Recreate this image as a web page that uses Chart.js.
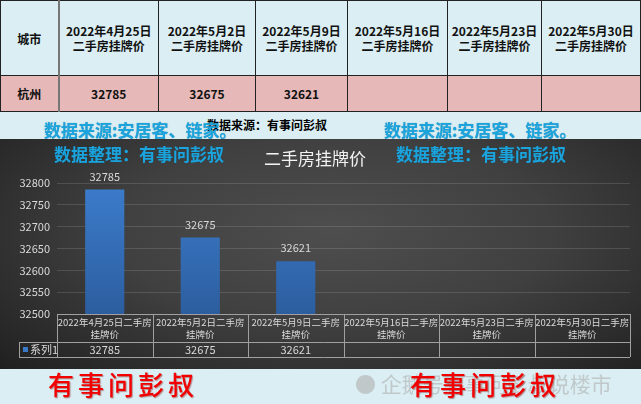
<!DOCTYPE html>
<html><head><meta charset="utf-8">
<script src="https://cdn.jsdelivr.net/npm/chart.js@4/dist/chart.umd.min.js"></script>
<style>
html,body{margin:0;padding:0;}
body{width:641px;height:404px;position:relative;overflow:hidden;background:#daeef3;font-family:"Noto Sans CJK SC",sans-serif;}
#tbl{position:absolute;left:0;top:0;border-collapse:collapse;table-layout:fixed;}
#tbl td{border:1px solid #222;text-align:center;font-weight:bold;font-size:12px;color:#111;padding:0;line-height:15px;}
#tbl tr.h td{background:#daeef3;height:74px;}
#tbl tr.d td{background:#e6b8b7;height:35px;}
#tbl td.c0{border-right:2px solid #777;}
#chartbox{position:absolute;left:0;top:139px;width:641px;height:230px;
 background:radial-gradient(ellipse 75% 90% at 52% 40%,#4e4e4e 0%,#404040 45%,#2a2a2a 80%,#1d1d1d 100%);}
.wm{position:absolute;white-space:nowrap;}
.cy{color:#1ba3dc;font-size:17px;font-weight:bold;font-family:"Noto Sans CJK SC";line-height:20px;text-shadow:0 0 1px rgba(0,80,120,.5);}
.bk{color:#000;font-size:12px;font-weight:bold;line-height:14px;}
.rd{color:#f20000;font-size:26px;font-weight:500;letter-spacing:4px;line-height:30px;text-shadow:1px 1px 1px rgba(120,0,0,.4);}
.gy{color:rgba(175,175,175,.6);font-size:21px;line-height:26px;}
</style></head>
<body>
<table id="tbl"></table>
<div id="chartbox"><canvas id="c" width="641" height="230"></canvas></div>
<div class="wm bk" style="left:207px;top:118px;">数据来源：有事问彭叔</div>
<div class="wm cy" style="left:44px;top:120px;">数据来源:安居客、链家。</div>
<div class="wm cy" style="left:384px;top:120px;">数据来源:安居客、链家。</div>
<div class="wm cy" style="left:54px;top:144px;">数据整理：有事问彭叔</div>
<div class="wm cy" style="left:396px;top:144px;">数据整理：有事问彭叔</div>
<div class="wm gy" style="left:355px;top:370px;">&#x25CF; 企鹅号有事问彭叔说楼市</div>
<div class="wm rd" style="left:48px;top:369px;">有事问彭叔</div>
<div class="wm rd" style="left:410px;top:369px;">有事问彭叔</div>
<script>
const cityHeader = '城市';
const cities = ['杭州'];
const dates = ['2022年4月25日','2022年5月2日','2022年5月9日','2022年5月16日','2022年5月23日','2022年5月30日'];
const metric = '二手房挂牌价';
const values = [32785, 32675, 32621, null, null, null];
const seriesName = '系列1';
const yTicks = [32500, 32550, 32600, 32650, 32700, 32750, 32800];
const chartTitle = '二手房挂牌价';

// top spreadsheet table
const colW = [58, 100, 97, 92, 100, 94, 99];
const tbl = document.getElementById('tbl');
let cg = '<colgroup>' + colW.map(w => '<col style="width:' + w + 'px">').join('') + '</colgroup>';
let h = '<tr class="h"><td class="c0">' + cityHeader + '</td>' + dates.map(d => '<td>' + d + '<br>' + metric + '</td>').join('') + '</tr>';
let r = cities.map(c => '<tr class="d"><td class="c0">' + c + '</td>' + values.map(v => '<td>' + (v == null ? '' : v) + '</td>').join('') + '</tr>').join('');
tbl.innerHTML = cg + h + r;

const labelCol = '#d9d9d9';
const lineCol = '#a0a0a0';
const tablePlugin = {
  id: 'excelTable',
  afterDraw(chart) {
    const ctx = chart.ctx, x = chart.scales.x, a = chart.chartArea;
    const half = (x.getPixelForValue(1) - x.getPixelForValue(0)) / 2;
    const top = a.bottom, mid = a.bottom + 28, bot = a.bottom + 43;
    ctx.save();
    ctx.strokeStyle = lineCol; ctx.lineWidth = 1;
    ctx.beginPath();
    ctx.moveTo(a.left, top + 0.5); ctx.lineTo(a.right, top + 0.5);
    ctx.moveTo(19, mid + 0.5); ctx.lineTo(a.right, mid + 0.5);
    ctx.moveTo(19, bot + 0.5); ctx.lineTo(a.right, bot + 0.5);
    ctx.moveTo(19.5, mid); ctx.lineTo(19.5, bot);
    for (let i = 0; i <= dates.length; i++) {
      const px = Math.round(x.getPixelForValue(0) - half + i * 2 * half) + 0.5;
      ctx.moveTo(px, top); ctx.lineTo(px, bot);
    }
    ctx.stroke();
    // legend key cell
    ctx.fillStyle = '#3a78c8';
    ctx.fillRect(23, mid + 5, 5, 5);
    ctx.fillStyle = labelCol;
    ctx.font = '11px "Noto Sans CJK SC"';
    ctx.textBaseline = 'middle'; ctx.textAlign = 'left';
    ctx.fillText(seriesName, 30, (mid + bot) / 2 + 0.5);
    // values row
    ctx.textAlign = 'center';
    values.forEach((v, i) => {
      if (v != null) ctx.fillText(String(v), x.getPixelForValue(i), (mid + bot) / 2 + 0.5);
    });
    // data labels
    const meta = chart.getDatasetMeta(0);
    meta.data.forEach((el, i) => {
      if (values[i] != null) ctx.fillText(String(values[i]), el.x, el.y - 13);
    });
    ctx.restore();
  }
};

new Chart(document.getElementById('c'), {
  type: 'bar',
  data: {
    labels: dates.map(d => [d + '二手房', '挂牌价']),
    datasets: [{
      label: seriesName,
      data: values,
      backgroundColor(ctx) {
        const a = ctx.chart.chartArea;
        if (!a) return '#3673c0';
        const g = ctx.chart.ctx.createLinearGradient(0, a.top, 0, a.bottom);
        g.addColorStop(0, '#3c7ccc');
        g.addColorStop(1, '#2c5e9f');
        return g;
      },
      categoryPercentage: 1,
      barPercentage: 0.41
    }]
  },
  options: {
    responsive: false,
    animation: false,
    layout: { padding: { left: 0, right: 11, top: 0, bottom: 12 } },
    plugins: {
      legend: { display: false },
      tooltip: { enabled: false },
      title: {
        display: true, text: chartTitle, color: '#f2f2f2',
        font: { size: 17, family: '"Noto Sans CJK SC"', weight: 'normal', lineHeight: 1.2 },
        padding: { top: 9, bottom: 14.6 }
      }
    },
    scales: {
      x: {
        offset: true,
        grid: { display: false, drawTicks: false },
        border: { display: false },
        ticks: { color: labelCol, font: { size: 9.5, family: '"Noto Sans CJK SC"', lineHeight: 1.3 }, maxRotation: 0, minRotation: 0, autoSkip: false, padding: 2 },
        afterFit(s) { s.height = 43; }
      },
      y: {
        min: 32500, max: 32800,
        afterBuildTicks(s) { s.ticks = yTicks.map(v => ({ value: v })); },
        grid: { color: 'rgba(255,255,255,0.13)', drawTicks: false },
        border: { display: false },
        ticks: { color: labelCol, font: { size: 11, family: '"Noto Sans CJK SC"' }, padding: 7, callback: v => String(v) },
        afterFit(s) { s.width = 57; }
      }
    }
  },
  plugins: [tablePlugin]
});
</script>
</body></html>
